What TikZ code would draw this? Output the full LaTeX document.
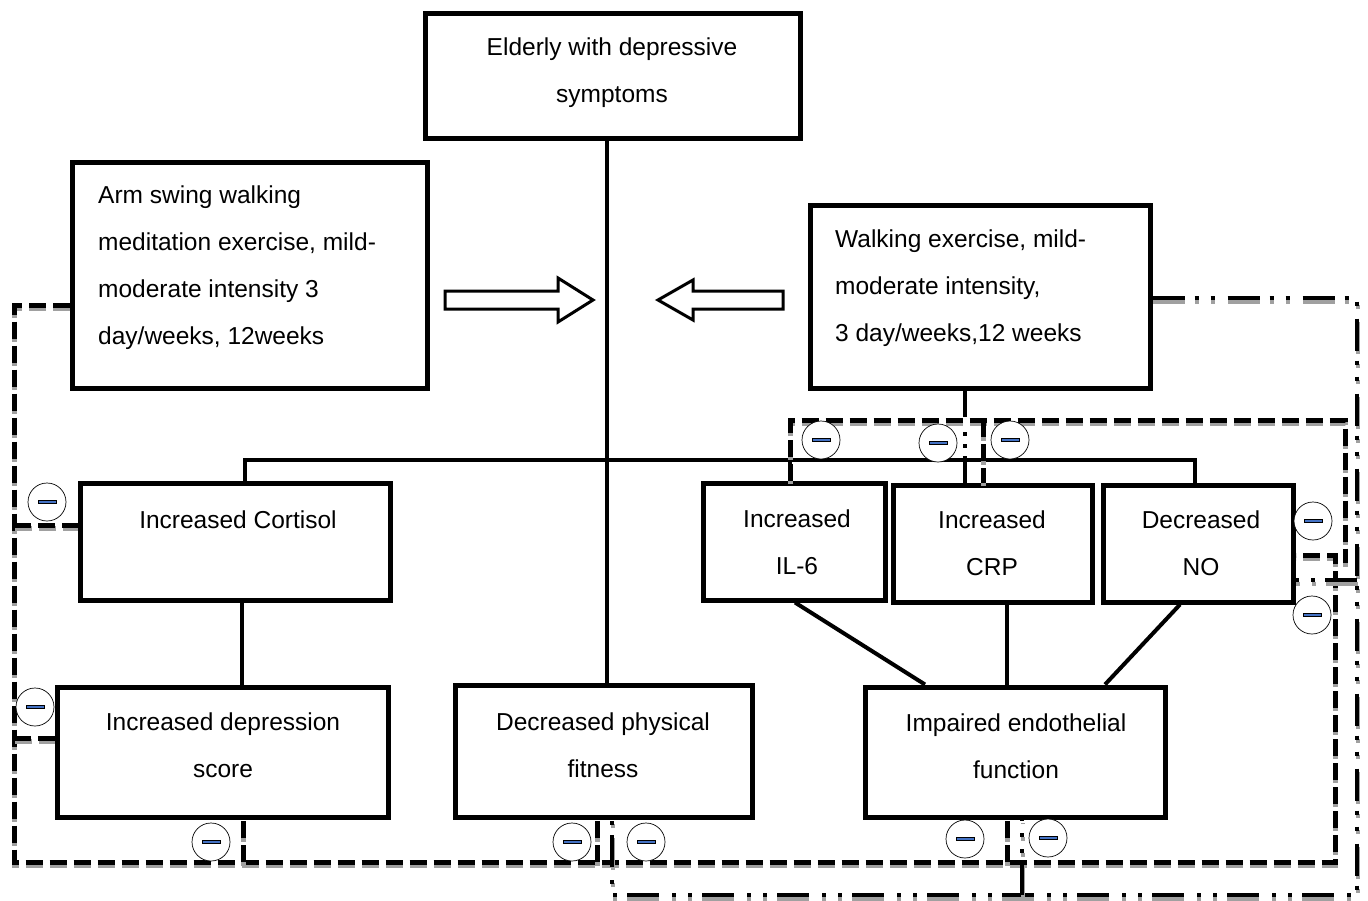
\documentclass[tikz,border=0pt]{standalone}
\usepackage{fontspec}
\setmainfont{Liberation Sans}
\usetikzlibrary{calc}
\definecolor{shadowgray}{HTML}{A0A0A0}
\definecolor{barblue}{HTML}{4472C4}
\newcommand\twin[2]{\draw[#1,shadowgray,transform canvas={shift={(0.5pt,-3.5pt)}}] #2; \draw[#1] #2;}
\tikzset{
  box/.style={draw, line width=5pt, inner sep=0pt},
  txt/.style={font=\fontsize{24.5}{47}\selectfont, inner sep=0pt},
  conn/.style={line width=4pt},
  dashline/.style={line width=5pt, dash pattern=on 17pt off 7pt},
  dotline/.style={line width=4pt, dash pattern=on 32pt off 10pt on 4pt off 12pt on 4pt off 13pt},
  minus/.style={draw, circle, line width=0.7pt, minimum size=38pt, inner sep=0pt, fill=white,
    path picture={\draw[fill=barblue, line width=0.6pt] ([xshift=-9pt,yshift=-1.6pt]path picture bounding box.center) rectangle ++(18pt,3.2pt);}},
  blockarrow/.style={draw, line width=3pt, fill=white, line join=miter}
}
\begin{document}
\begin{tikzpicture}[x=1pt,y=-1pt]
\useasboundingbox (0,0) rectangle (1368,900);
% boxes
\node[box, minimum width=375pt, minimum height=125pt] (top) at (612.5,75.5) {};
\node[box, minimum width=355pt, minimum height=226pt] (arm) at (249.5,275) {};
\node[box, minimum width=340pt, minimum height=183pt] (walk) at (980,296.5) {};
\node[box, minimum width=310pt, minimum height=117pt] (cort) at (235,541.5) {};
\node[box, minimum width=182pt, minimum height=117pt] (il6) at (794,541.5) {};
\node[box, minimum width=199pt, minimum height=117pt] (crp) at (992.5,543.5) {};
\node[box, minimum width=190pt, minimum height=117pt] (NO) at (1198,543.5) {};
\node[box, minimum width=331pt, minimum height=130pt] (dep) at (222.5,752) {};
\node[box, minimum width=297pt, minimum height=132pt] (fit) at (603.5,751) {};
\node[box, minimum width=300pt, minimum height=130pt] (endo) at (1015,752) {};
% texts
\node[txt, align=center] (ttop) at (612,73) {Elderly with depressive\\symptoms};
\node[txt, align=left, anchor=west] (tarm) at (98,268) {Arm swing walking\\meditation exercise, mild-\\moderate intensity 3\\day/weeks, 12weeks};
\node[txt, align=left, anchor=west] (twalk) at (835,288) {Walking exercise, mild-\\moderate intensity,\\3 day/weeks,12 weeks};
\node[txt] (tcort) at (238,520) {Increased Cortisol};
\node[txt, align=center] (til6) at (797,542) {Increased\\IL-6};
\node[txt, align=center] (tcrp) at (992,543) {Increased\\CRP};
\node[txt, align=center] (tNO) at (1201,543) {Decreased\\NO};
\node[txt, align=center] (tdep) at (223,745) {Increased depression\\score};
\node[txt, align=center] (tfit) at (603,745) {Decreased physical\\fitness};
\node[txt, align=center] (tendo) at (1016,746) {Impaired endothelial\\function};
% block arrows
\draw[blockarrow] (445,291) -- (558,291) -- (558,278) -- (593,300) -- (558,322) -- (558,309) -- (445,309) -- cycle;
\draw[blockarrow] (783,291) -- (693,291) -- (693,280) -- (658,300) -- (693,320) -- (693,309) -- (783,309) -- cycle;
% solid connectors
\coordinate (v) at (607,0);
\coordinate (h1) at (245,460);
\coordinate (h2) at (1195,460);
\coordinate (h3) at (790,460);
\coordinate (h4) at (965,460);
\coordinate (w1) at (965,417);
\draw[conn] (top.south -| v) -- (fit.north -| v);
\draw[conn] (cort.north -| h1) -- (h1) -- (h2) -- (NO.north -| h2);
\draw[conn] (h3) -- (il6.north -| h3);
\draw[conn] (h4) -- (crp.north -| h4);
\draw[conn] (walk.south -| w1) -- (w1);
\draw[line width=4pt, dash pattern=on 4pt off 8pt] (965,432) -- (h4);
\draw[conn] (cort.south -| 242,0) -- (dep.north -| 242,0);
\draw[conn] (il6.south -| 795,0) -- (endo.north -| 925,0);
\draw[conn] (crp.south -| 1007,0) -- (endo.north -| 1007,0);
\draw[conn] (NO.south -| 1180,0) -- (endo.north -| 1105,0);
% dashed loop (arm swing)
\coordinate (A1) at (14,305);
\coordinate (A2) at (14,862);
\coordinate (A3) at (1335,862);
\coordinate (A4) at (1335,555);
\coordinate (c1) at (14,525);
\coordinate (c2) at (14,738);
\coordinate (b1) at (243,862);
\coordinate (b2) at (597,862);
\coordinate (b3) at (1007,862);
\twin{dashline}{(arm.west |- A1) -- (A1) -- (A2) -- (A3) -- (A4) -- (NO.east |- A4)}
\twin{dashline}{(c1) -- (cort.west |- c1)}
\twin{dashline}{(c2) -- (dep.west |- c2)}
\twin{dashline}{(b1) -- (b1 |- dep.south)}
\twin{dashline}{(b2) -- (b2 |- fit.south)}
\twin{dashline}{(b3) -- (b3 |- endo.south)}
% top dashed
\coordinate (t1) at (790,420);
\coordinate (t2) at (1345,420);
\coordinate (t3) at (1345,563);
\coordinate (t4) at (983,420);
\twin{dashline}{(t1 |- il6.north) -- (t1) -- (t2) -- (t3)}
\twin{dashline}{(t4) -- (t4 |- crp.north)}
% dash-dot loop (walking)
\coordinate (d1) at (1357,298);
\coordinate (d2) at (1357,895);
\coordinate (d3) at (612,895);
\coordinate (d4) at (1022,895);
\coordinate (d5) at (1357,580);
\twin{dotline}{(walk.east |- d1) -- (d1) -- (d2) -- (d3) -- (d3 |- fit.south)}
\twin{dotline}{(d4) -- (d4 |- endo.south)}
\twin{dotline}{(d5) -- (NO.east |- d5)}
% minus markers
\node[minus] (m1) at (47,502) {};
\node[minus] (m2) at (35,707) {};
\node[minus] (m3) at (211,842) {};
\node[minus] (m4) at (572,842) {};
\node[minus] (m5) at (646,842) {};
\node[minus] (m6) at (965,839) {};
\node[minus] (m7) at (1048,838) {};
\node[minus] (m8) at (821,440) {};
\node[minus] (m9) at (938,443) {};
\node[minus] (m10) at (1010,440) {};
\node[minus] (m11) at (1313,521) {};
\node[minus] (m12) at (1312,615) {};
\end{tikzpicture}
\end{document}
